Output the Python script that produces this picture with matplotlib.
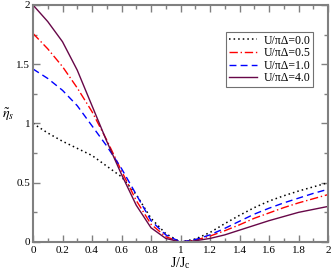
import numpy as np
import matplotlib
matplotlib.use("Agg")
import matplotlib.pyplot as plt
from matplotlib.ticker import MultipleLocator

# J/Jc grid and curves
j_ratio = [0.0, 0.1, 0.2, 0.3, 0.4, 0.5, 0.6, 0.7, 0.8, 0.9, 1.0,
           1.1, 1.2, 1.3, 1.4, 1.5, 1.6, 1.7, 1.8, 1.9, 2.0]
eta_u00 = [1.00, 0.92, 0.85, 0.79, 0.73, 0.64, 0.55, 0.40, 0.20, 0.07, 0.0,
           0.025, 0.08, 0.155, 0.225, 0.29, 0.345, 0.39, 0.43, 0.465, 0.50]
eta_u05 = [1.76, 1.63, 1.48, 1.30, 1.10, 0.86, 0.60, 0.35, 0.15, 0.045, 0.0,
           0.015, 0.05, 0.095, 0.145, 0.20, 0.245, 0.29, 0.33, 0.365, 0.40]
eta_u10 = [1.46, 1.38, 1.28, 1.15, 0.98, 0.81, 0.62, 0.40, 0.18, 0.06, 0.0,
           0.02, 0.06, 0.115, 0.175, 0.235, 0.285, 0.33, 0.37, 0.41, 0.445]
eta_u40 = [2.00, 1.86, 1.69, 1.45, 1.15, 0.85, 0.57, 0.31, 0.12, 0.03, 0.0,
           0.01, 0.03, 0.06, 0.10, 0.14, 0.18, 0.215, 0.25, 0.275, 0.30]
labels = ["U/\u03c0\u0394=0.0", "U/\u03c0\u0394=0.5", "U/\u03c0\u0394=1.0", "U/\u03c0\u0394=4.0"]
x_ticks = [0, 0.2, 0.4, 0.6, 0.8, 1, 1.2, 1.4, 1.6, 1.8, 2]
x_tick_labels = ["0", "0.2", "0.4", "0.6", "0.8", "1", "1.2", "1.4", "1.6", "1.8", "2"]
y_ticks = [0, 0.5, 1, 1.5, 2]
y_tick_labels = ["0", "0.5", "1", "1.5", "2"]

plt.rcParams['font.family'] = ['Liberation Serif', 'DejaVu Serif']
plt.rcParams['mathtext.fontset'] = 'stix'

fig = plt.figure(figsize=(3.32, 2.73), dpi=100)
ax = fig.add_axes([0.0994, 0.1136, 0.8886, 0.8681])

ax.plot(j_ratio, eta_u00, color="black", linestyle=(0, (1, 2)), lw=1.1, label=labels[0])
ax.plot(j_ratio, eta_u05, color="red", linestyle=(0, (6, 2, 1, 2)), lw=1.0, label=labels[1])
ax.plot(j_ratio, eta_u10, color="blue", linestyle=(0, (5, 3)), lw=1.0, label=labels[2])
ax.plot(j_ratio, eta_u40, color="#670748", linestyle="-", lw=1.0, label=labels[3])

ax.set_xlim(0, 2)
ax.set_ylim(0, 2)
ax.set_xticks(x_ticks)
ax.set_xticklabels(x_tick_labels)
ax.set_yticks(y_ticks)
ax.set_yticklabels(y_tick_labels)
ax.xaxis.set_minor_locator(MultipleLocator(0.1))
ax.yaxis.set_minor_locator(MultipleLocator(0.25))
ax.tick_params(which="both", direction="in", top=True, right=True,
               labelsize=8, color="0.5")
ax.tick_params(axis="x", pad=3)
ax.tick_params(axis="y", pad=2)
ax.tick_params(which="major", length=5, width=1)
ax.tick_params(which="minor", length=3, width=1)
for s in ax.spines.values():
    s.set_color("0.5")
    s.set_linewidth(1.5)

ax.set_xlabel("J/J$_\\mathregular{c}$", fontsize=10, labelpad=0)
ax.set_ylabel("$\\tilde{\\eta}_s$", fontsize=10, rotation=0, labelpad=6)

leg = ax.legend(loc="upper right", bbox_to_anchor=(0.95, 0.885), fontsize=8.5,
                frameon=True, fancybox=False, handlelength=2.4,
                borderpad=0.2, labelspacing=0.05, handletextpad=0.6,
                borderaxespad=0)
leg.get_frame().set_edgecolor("0.3")
leg.get_frame().set_linewidth(0.8)

fig.savefig("out.png", dpi=100)
